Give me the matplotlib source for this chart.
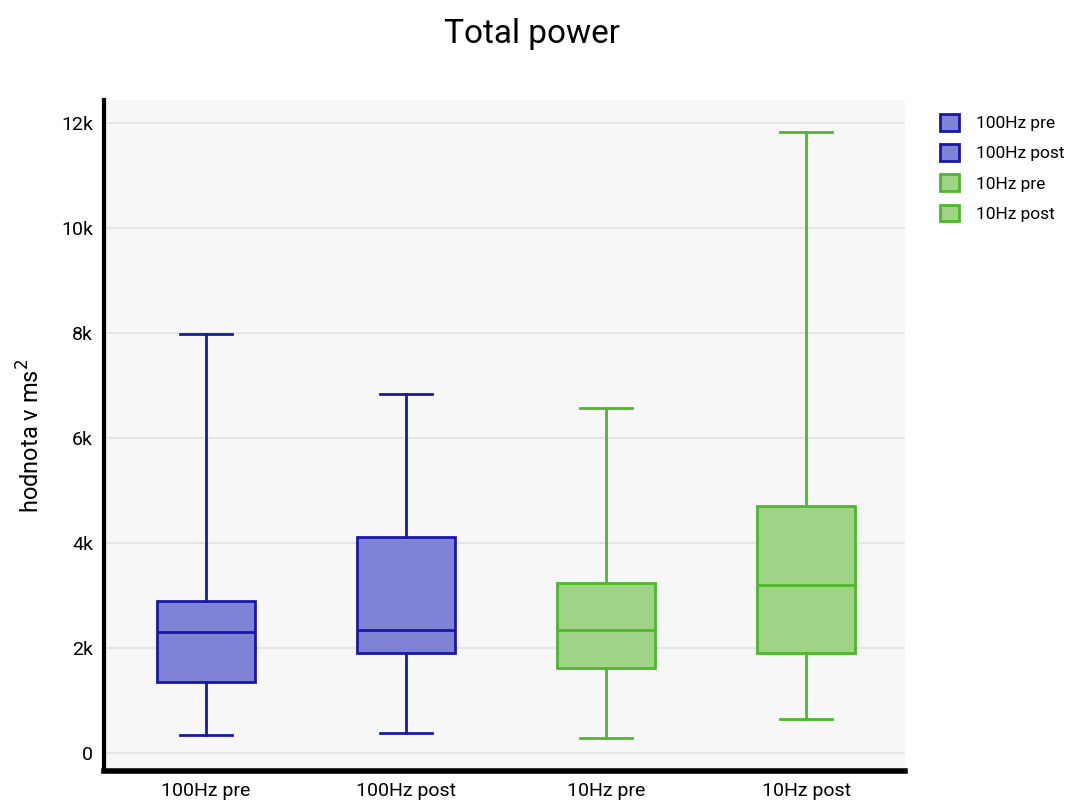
import matplotlib.pyplot as plt
from matplotlib.patches import Patch
from matplotlib.ticker import FuncFormatter

plt.rcParams['font.family'] = ['Liberation Sans Narrow', 'Roboto', 'DejaVu Sans']

groups = ["100Hz pre", "100Hz post", "10Hz pre", "10Hz post"]
# five number summaries: low whisker, q1, median, q3, high whisker
lows = [343, 381, 286, 648]
q1s = [1352, 1905, 1619, 1905]
medians = [2305, 2343, 2343, 3200]
q3s = [2895, 4114, 3238, 4705]
highs = [7980, 6840, 6571, 11830]

edge_colors = ["#1818a8", "#1818a8", "#4cb82c", "#4cb82c"]
fill_colors = ["#8083d5", "#8083d5", "#9fd486", "#9fd486"]

stats = []
for g, lo, a, m, b, hi in zip(groups, lows, q1s, medians, q3s, highs):
    stats.append({"label": g, "whislo": lo, "q1": a, "med": m, "q3": b, "whishi": hi, "fliers": []})

fig = plt.figure(figsize=(10.65, 8.02), dpi=100)
ax = fig.add_axes([104 / 1065, 31 / 802, 801 / 1065, 671 / 802])
ax.set_facecolor("#f7f7f7")

bp = ax.bxp(stats, positions=range(len(groups)), widths=0.49, patch_artist=True,
            showfliers=False, capwidths=0.26)
for i in range(len(groups)):
    c = edge_colors[i]
    bp["boxes"][i].set(facecolor=fill_colors[i], edgecolor=c, linewidth=2)
    bp["medians"][i].set(color=c, linewidth=2)
    for line in bp["whiskers"][2 * i:2 * i + 2] + bp["caps"][2 * i:2 * i + 2]:
        line.set(color=c, linewidth=2)

ax.set_xlim(-0.51, 3.495)
ax.set_ylim(-343, 12440)
ax.set_yticks(range(0, 12001, 2000))
ax.yaxis.set_major_formatter(FuncFormatter(lambda v, p: "0" if v == 0 else f"{int(v / 1000)}k"))
ax.grid(axis="y", color="#e2e2e2", linewidth=1.2)
ax.set_axisbelow(True)
ax.tick_params(axis="both", length=0, labelsize=14, pad=8)
ax.tick_params(axis="x", pad=8)

for side in ["top", "right"]:
    ax.spines[side].set_visible(False)
ax.spines["left"].set_linewidth(3)
ax.spines["bottom"].set_linewidth(4)

ax.set_ylabel("hodnota v ms$^2$", fontsize=17, labelpad=12)
fig.suptitle("Total power", fontsize=24, y=0.978)

handles = [Patch(facecolor=fill_colors[i], edgecolor=edge_colors[i], linewidth=2, label=groups[i])
           for i in range(len(groups))]
ax.legend(handles=handles, loc="upper left", bbox_to_anchor=(1.026, 1.0), frameon=False,
          fontsize=12.5, handlelength=1.1, handleheight=1.1, labelspacing=0.75,
          handletextpad=1.0, borderaxespad=0.4)

fig.savefig("out.png", dpi=100)
